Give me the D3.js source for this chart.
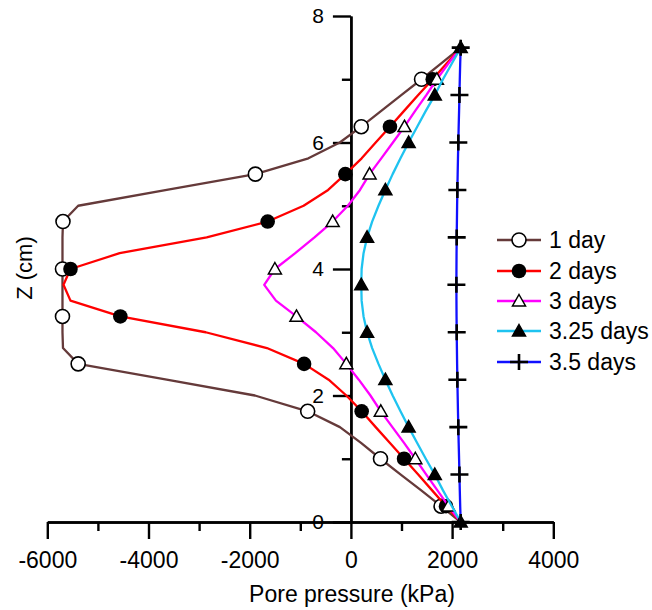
<!DOCTYPE html>
<html>
<head>
<meta charset="utf-8">
<script src="https://cdn.jsdelivr.net/npm/d3@7"></script>
<style>
  html, body { margin: 0; padding: 0; background: #fff; }
  svg { display: block; }
  text { font-family: "Liberation Sans", Arial, sans-serif; fill: #000; }
</style>
</head>
<body>
<div id="chart"></div>
<script>
// Depth Z (cm), every 0.25 cm from 0 to 7.5
const depth = [0, 0.25, 0.5, 0.75, 1.0, 1.25, 1.5, 1.75, 2.0, 2.25, 2.5, 2.75, 3.0, 3.25, 3.5, 3.75,
               4.0, 4.25, 4.5, 4.75, 5.0, 5.25, 5.5, 5.75, 6.0, 6.25, 6.5, 6.75, 7.0, 7.25, 7.5];

// Pore pressure (kPa) for each time, at the depths above
const day1 = [2170, 1782, 1390, 985, 585, 200, -217, -854, -1897, -3640, -5390, -5690, -5700, -5700, -5700, -5700,
              -5700, -5700, -5700, -5690, -5390, -3640, -1888, -840, -220, 205, 600, 995, 1396, 1785, 2170];
const day2 = [2170, 1880, 1605, 1330, 1051, 772, 490, 213, -90, -440, -925, -1660, -2870, -4557, -5542, -5680,
              -5542, -4570, -2850, -1645, -935, -450, -110, 213, 490, 772, 1051, 1330, 1617, 1890, 2170];
const day3 = [2170, 1929, 1710, 1490, 1273, 1050, 820, 591, 386, 156, -90, -353, -690, -1076, -1482, -1713,
              -1502, -1100, -720, -360, -60, 180, 369, 600, 830, 1059, 1270, 1490, 1699, 1930, 2170];
const day325 = [2170, 1995, 1820, 1658, 1480, 1310, 1141, 980, 825, 681, 545, 420, 320, 250, 212, 205,
                212, 250, 320, 420, 545, 681, 825, 980, 1141, 1310, 1480, 1658, 1820, 1995, 2170];
const day35 = [2170, 2160, 2152, 2145, 2138, 2130, 2123, 2116, 2110, 2104, 2099, 2095, 2091, 2088, 2086, 2085,
               2086, 2088, 2091, 2095, 2099, 2104, 2110, 2116, 2123, 2130, 2138, 2145, 2152, 2160, 2170];

const seriesNames = ["1 day", "2 days", "3 days", "3.25 days", "3.5 days"];
const seriesValues = [day1, day2, day3, day325, day35];
const seriesColors = ["#653a3a", "#ff0000", "#ff00ff", "#1ec3f0", "#1010ff"];
const seriesMarkers = ["circleOpen", "circleFilled", "triangleOpen", "triangleFilled", "cross"];
const markerOffset = [1, 1, 1, 0, 0]; // first marked depth index; every 3rd point carries a marker

const xTicksMajor = [-6000, -4000, -2000, 0, 2000, 4000];
const xTicksMinor = [-5000, -3000, -1000, 1000, 3000];
const yTicksMajor = [0, 2, 4, 6, 8];
const yTicksMinor = [1, 3, 5, 7];

const W = 652, H = 610;
const svg = d3.select("#chart").append("svg").attr("width", W).attr("height", H);

const x = d3.scaleLinear().domain([-6000, 4000]).range([47.3, 553.3]);
const y = d3.scaleLinear().domain([0, 8]).range([522, 16]);

const axisStroke = 2.4;

// X axis (at Z = 0)
svg.append("g").attr("transform", `translate(0,${y(0)})`)
  .call(d3.axisBottom(x).tickValues(xTicksMinor).tickSize(9).tickSizeOuter(0).tickFormat(""));
const gx = svg.append("g").attr("transform", `translate(0,${y(0)})`)
  .call(d3.axisBottom(x).tickValues(xTicksMajor).tickSize(17).tickSizeOuter(0).tickPadding(13).tickFormat(d3.format("d")));
gx.selectAll("text").style("font-size", "23px").text(d => d < 0 ? "-" + Math.abs(d) : d);

// Y axis (at pressure = 0)
svg.append("g").attr("transform", `translate(${x(0)},0)`)
  .call(d3.axisLeft(y).tickValues(yTicksMinor).tickSize(9).tickSizeOuter(0).tickFormat(""));
const gy = svg.append("g").attr("transform", `translate(${x(0)},0)`)
  .call(d3.axisLeft(y).tickValues(yTicksMajor).tickSize(18).tickSizeOuter(0).tickPadding(9).tickFormat(d3.format("d")));
gy.selectAll("text").style("font-size", "21px");

svg.selectAll(".domain, .tick line").attr("stroke", "#000").attr("stroke-width", axisStroke);

// Axis titles
svg.append("text").attr("x", 352).attr("y", 602).attr("text-anchor", "middle")
  .style("font-size", "23px").text("Pore pressure (kPa)");
svg.append("text").attr("transform", "translate(32,268) rotate(-90)").attr("text-anchor", "middle")
  .style("font-size", "22px").text("Z (cm)");

// Marker drawing helper
function drawMarker(g, type, cx, cy) {
  if (type === "circleOpen") {
    g.append("circle").attr("cx", cx).attr("cy", cy).attr("r", 7)
      .attr("fill", "#fff").attr("stroke", "#000").attr("stroke-width", 1.6);
  } else if (type === "circleFilled") {
    g.append("circle").attr("cx", cx).attr("cy", cy).attr("r", 7.3).attr("fill", "#000");
  } else if (type === "triangleOpen" || type === "triangleFilled") {
    const s = 6.5;
    const pts = [[cx, cy - s], [cx + s * 1.0, cy + s * 0.75], [cx - s * 1.0, cy + s * 0.75]];
    g.append("path").attr("d", "M" + pts.map(p => p.join(",")).join("L") + "Z")
      .attr("fill", type === "triangleOpen" ? "#fff" : "#000")
      .attr("stroke", "#000").attr("stroke-width", 1.5).attr("stroke-linejoin", "miter");
  } else if (type === "cross") {
    g.append("path").attr("d", `M${cx - 9},${cy}H${cx + 9}M${cx},${cy - 8}V${cy + 8}`)
      .attr("stroke", "#000").attr("stroke-width", 2.6).attr("fill", "none");
  }
}

const line = d3.line().x(d => x(d[1])).y(d => y(d[0]));

seriesValues.forEach((vals, si) => {
  const g = svg.append("g");
  const pts = depth.map((z, i) => [z, vals[i]]);
  g.append("path").datum(pts).attr("d", line)
    .attr("fill", "none").attr("stroke", seriesColors[si]).attr("stroke-width", 2.3)
    .attr("stroke-linejoin", "round");
  pts.forEach((p, i) => {
    if (i >= markerOffset[si] && (i - markerOffset[si]) % 3 === 0) {
      drawMarker(g, seriesMarkers[si], x(p[1]), y(p[0]));
    }
  });
});

// Legend
const legX0 = 497, legX1 = 541, legMid = 519, legTextX = 549;
const legY = [240, 271, 301, 331, 362];
seriesNames.forEach((name, si) => {
  const g = svg.append("g");
  g.append("line").attr("x1", legX0).attr("x2", legX1).attr("y1", legY[si]).attr("y2", legY[si])
    .attr("stroke", seriesColors[si]).attr("stroke-width", 2.3);
  drawMarker(g, seriesMarkers[si], legMid, legY[si]);
  g.append("text").attr("x", legTextX).attr("y", legY[si]).attr("dy", "0.36em")
    .style("font-size", "23px").text(name);
});
</script>
</body>
</html>
